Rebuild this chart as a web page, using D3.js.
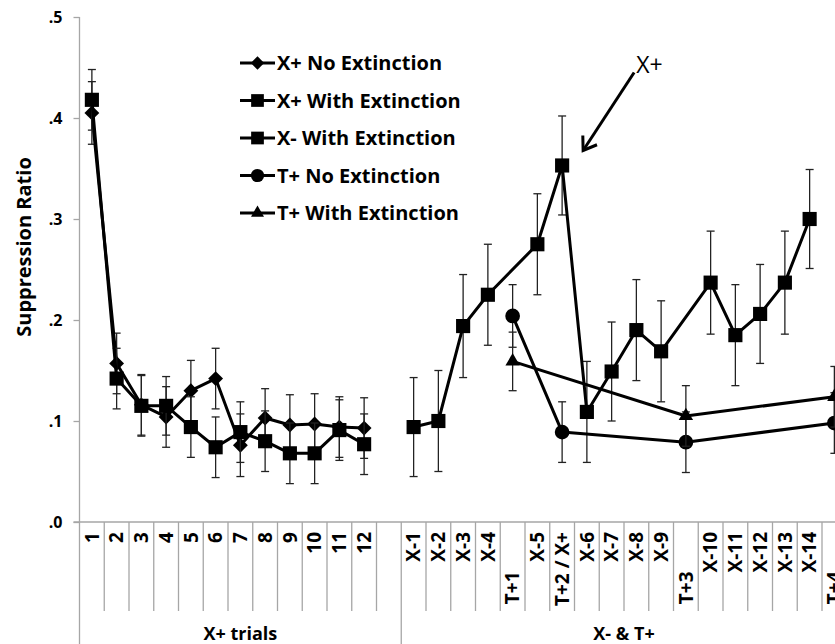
<!DOCTYPE html>
<meta charset="utf-8">
<style>

body { margin: 0; background: #fff; }

text {
  font-family: "Open Sans", sans-serif;
  font-weight: bold;
  fill: #000;
}

.axis line,
.sep {
  stroke: #a6a6a6;
  stroke-width: 1.3px;
}

.series {
  fill: none;
  stroke: #000;
  stroke-width: 3px;
  stroke-linejoin: round;
}

.err {
  stroke: #222;
  stroke-width: 1.3px;
}

</style>
<svg width="835" height="644"></svg>
<script src="https://cdn.jsdelivr.net/npm/d3@7"></script>
<script>

// categories along the x axis ("" is the empty slot between the two groups)
var categories = ["1", "2", "3", "4", "5", "6", "7", "8", "9", "10", "11", "12", "",
    "X-1", "X-2", "X-3", "X-4", "T+1", "X-5", "T+2 / X+", "X-6", "X-7", "X-8", "X-9",
    "T+3", "X-10", "X-11", "X-12", "X-13", "X-14", "T+4"];
var pad = "\u00a0\u00a0\u00a0\u00a0\u00a0\u00a0\u00a0\u00a0";
var tickLabels = ["1", "2", "3", "4", "5", "6", "7", "8", "9", "10", "11", "12", "",
    "X-1", "X-2", "X-3", "X-4", "T+1" + pad, "X-5", "T+2 / X+", "X-6", "X-7", "X-8", "X-9",
    "T+3" + pad, "X-10", "X-11", "X-12", "X-13", "X-14", "T+4" + pad];

var groupLabels = ["X+ trials", "X- & T+"];
var groupFirst = ["1", "X-1"];
var groupLast = ["", "T+4"];

var yTicks = [0, .1, .2, .3, .4, .5];

// X+ trials
var trials = ["1", "2", "3", "4", "5", "6", "7", "8", "9", "10", "11", "12"];
var xNoExt = [.405, .157, .116, .104, .130, .142, .076, .103, .096, .097, .094, .093];
var xNoExtErr = [.031, .030, .030, .030, .030, .030, .031, .029, .030, .030, .030, .030];
var xExt = [.418, .142, .115, .115, .094, .074, .089, .080, .068, .068, .091, .077];
var xExtErr = [.030, .030, .030, .029, .030, .030, .030, .030, .030, .030, .030, .030];

// X- trials (with the X+ test trial)
var xMinusTrials = ["X-1", "X-2", "X-3", "X-4", "X-5", "T+2 / X+", "X-6", "X-7", "X-8", "X-9",
    "X-10", "X-11", "X-12", "X-13", "X-14"];
var xMinusExt = [.094, .100, .194, .225, .275, .353, .109, .149, .190, .169, .237, .185, .206, .237, .300];
var xMinusExtErr = [.049, .050, .051, .050, .050, .049, .050, .049, .050, .050, .051, .050, .049, .051, .049];

// T+ trials
var tNoExtTrials = ["T+1", "T+2 / X+", "T+3", "T+4"];
var tNoExt = [.204, .089, .079, .098];
var tNoExtErr = [.031, .030, .030, .030];
var tExtTrials = ["T+1", "T+3", "T+4"];
var tExt = [.159, .105, .124];
var tExtErr = [.029, .030, .030];

var legendNames = ["X+ No Extinction", "X+ With Extinction", "X- With Extinction",
    "T+ No Extinction", "T+ With Extinction"];

var series = [
  {name: legendNames[0], cats: trials, vals: xNoExt, errs: xNoExtErr, shape: "diamond"},
  {name: legendNames[1], cats: trials, vals: xExt, errs: xExtErr, shape: "square"},
  {name: legendNames[2], cats: xMinusTrials, vals: xMinusExt, errs: xMinusExtErr, shape: "square"},
  {name: legendNames[3], cats: tNoExtTrials, vals: tNoExt, errs: tNoExtErr, shape: "circle"},
  {name: legendNames[4], cats: tExtTrials, vals: tExt, errs: tExtErr, shape: "triangle"}
];

var svg = d3.select("svg"),
    plotLeft = 79.5,
    plotTop = 17,
    plotBase = 522,
    step = 24.75;

var x = d3.scaleBand()
    .domain(categories)
    .range([plotLeft, plotLeft + step * categories.length]);

var y = d3.scaleLinear()
    .domain([0, .5])
    .range([plotBase, plotTop]);

var bw = x.bandwidth();
function cx(c) { return x(c) + bw / 2; }

function markerPath(shape, k) {
  k = k || 1;
  if (shape == "diamond") return d3.symbol(d3.symbolSquare, 110 * k * k)();
  if (shape == "square") return d3.symbol(d3.symbolSquare, 200 * k * k)();
  if (shape == "circle") return d3.symbol(d3.symbolCircle, 170 * k * k)();
  return d3.symbol(d3.symbolTriangle, 90 * k * k)();
}
function markerRot(shape) { return shape == "diamond" ? " rotate(45)" : ""; }

// y axis
var gy = svg.append("g")
    .attr("class", "axis")
    .attr("transform", "translate(" + plotLeft + ",0)")
    .call(d3.axisLeft(y)
        .tickValues(yTicks)
        .tickSize(6)
        .tickSizeOuter(0)
        .tickPadding(11)
        .tickFormat(function(d) { return d3.format(".1f")(d).replace(/^0/, ""); }));
gy.select(".domain").remove();
gy.selectAll("text").style("font-size", "16px").attr("font-family", null);

svg.append("line").attr("class", "sep")
    .attr("x1", plotLeft).attr("x2", plotLeft)
    .attr("y1", y(.5)).attr("y2", 644);
svg.append("line").attr("class", "sep")
    .attr("x1", plotLeft - 6).attr("x2", x.range()[1])
    .attr("y1", plotBase).attr("y2", plotBase);

// category separators
categories.forEach(function(c, i) {
  if (i == 0) return;
  var full = groupFirst.indexOf(c) >= 0;
  svg.append("line").attr("class", "sep")
      .attr("x1", x(c)).attr("x2", x(c))
      .attr("y1", plotBase).attr("y2", full ? 644 : 611);
});

svg.append("g").selectAll("text")
  .data(categories)
  .enter().append("text")
    .attr("transform", function(d) { return "translate(" + cx(d) + "," + (plotBase + 10) + ") rotate(-90)"; })
    .attr("text-anchor", "end")
    .attr("dy", "0.36em")
    .style("font-size", "19px")
    .text(function(d, i) { return tickLabels[i]; });

groupLabels.forEach(function(g, i) {
  var x0 = x(groupFirst[i]), x1 = x(groupLast[i]) + bw;
  svg.append("text")
      .attr("x", (x0 + x1) / 2)
      .attr("y", 640)
      .attr("text-anchor", "middle")
      .style("font-size", "18px")
      .text(g);
});

svg.append("text")
    .attr("transform", "translate(31," + 247 + ") rotate(-90)")
    .attr("text-anchor", "middle")
    .style("font-size", "20px")
    .text("Suppression Ratio");

// series
var line = d3.line()
    .x(function(d) { return cx(d.c); })
    .y(function(d) { return y(d.v); });

series.forEach(function(s) {
  var pts = s.cats.map(function(c, i) { return {c: c, v: s.vals[i], e: s.errs[i]}; });
  var g = svg.append("g");

  var eb = g.selectAll(".eb").data(pts).enter().append("g").attr("class", "err");
  eb.append("line")
      .attr("x1", function(d) { return cx(d.c); }).attr("x2", function(d) { return cx(d.c); })
      .attr("y1", function(d) { return y(d.v - d.e); }).attr("y2", function(d) { return y(d.v + d.e); });
  [-1, 1].forEach(function(sign) {
    eb.append("line")
        .attr("x1", function(d) { return cx(d.c) - 4; }).attr("x2", function(d) { return cx(d.c) + 4; })
        .attr("y1", function(d) { return y(d.v + sign * d.e); }).attr("y2", function(d) { return y(d.v + sign * d.e); });
  });

  g.append("path").datum(pts).attr("class", "series").attr("d", line);

  g.selectAll(".mk").data(pts).enter().append("path")
      .attr("transform", function(d) { return "translate(" + cx(d.c) + "," + y(d.v) + ")" + markerRot(s.shape); })
      .attr("d", markerPath(s.shape));
});

// legend
var legend = svg.append("g").selectAll("g")
  .data(series)
  .enter().append("g")
    .attr("transform", function(d, i) { return "translate(240," + (63 + i * 37.5) + ")"; });
legend.append("line")
    .attr("x1", 0).attr("x2", 35)
    .attr("stroke", "#000").attr("stroke-width", 3);
legend.append("path")
    .attr("transform", function(d) { return "translate(17.5,0)" + markerRot(d.shape); })
    .attr("d", function(d) { return markerPath(d.shape, 0.9); });
legend.append("text")
    .attr("x", 37)
    .attr("dy", "0.36em")
    .style("font-size", "20px")
    .text(function(d) { return d.name; });

// X+ arrow annotation
var ax = cx("T+2 / X+"), ay = y(xMinusExt[xMinusTrials.indexOf("T+2 / X+")]);
var tip = [ax + 21, ay - 15], tail = [ax + 72, ay - 93];
var ang = Math.atan2(tail[1] - tip[1], tail[0] - tip[0]);
var arrow = svg.append("g").attr("stroke", "#000").attr("stroke-width", 3).attr("fill", "none");
arrow.append("line").attr("x1", tail[0]).attr("y1", tail[1]).attr("x2", tip[0]).attr("y2", tip[1]);
arrow.append("path")
    .attr("d", "M" + (tip[0] + 15 * Math.cos(ang - 0.6)) + "," + (tip[1] + 15 * Math.sin(ang - 0.6)) +
        "L" + tip[0] + "," + tip[1] +
        "L" + (tip[0] + 15 * Math.cos(ang + 0.6)) + "," + (tip[1] + 15 * Math.sin(ang + 0.6)));
svg.append("text")
    .attr("x", tail[0] + 2)
    .attr("y", tail[1] + 1)
    .style("font-weight", "normal")
    .style("font-size", "23px")
    .text("X+");

</script>
